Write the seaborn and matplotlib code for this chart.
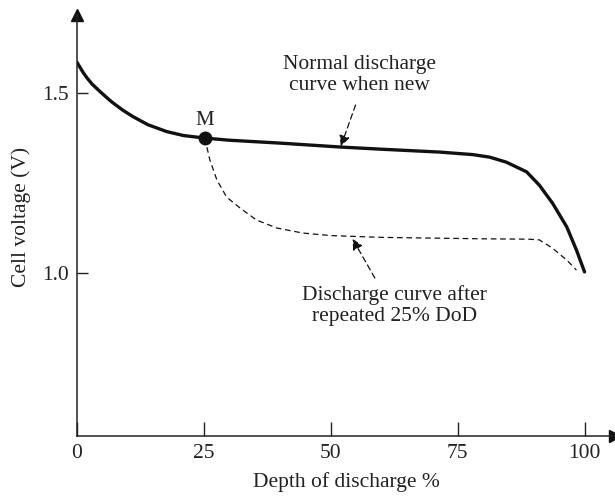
import matplotlib
matplotlib.use("Agg")
import matplotlib.pyplot as plt
import pandas as pd
import seaborn as sns

sns.set_style("white")
plt.rcParams["font.family"] = ["Liberation Serif", "DejaVu Serif"]

# normal discharge curve (new cell)
dod_new = [0, 1.2, 2, 3, 4.5, 6, 7, 9, 11, 14, 17.7, 21, 25.2, 30, 40, 52,
           60, 71.5, 78, 81.3, 84.6, 88.6, 91.1, 93.7, 96.5, 98.4, 100]
v_new = [1.586, 1.558, 1.542, 1.525, 1.505, 1.486, 1.474, 1.453, 1.435, 1.412,
         1.393, 1.382, 1.375, 1.369, 1.361, 1.35, 1.344, 1.336, 1.329, 1.322,
         1.308, 1.281, 1.244, 1.194, 1.128, 1.064, 1.003]

# curve after repeated 25% DoD
dod_rep = [25.2, 26.2, 27.6, 29.5, 32.1, 35.4, 39.4, 44.5, 50, 60, 70, 80,
           89, 91.1, 93.7, 96.5, 98.4]
v_rep = [1.375, 1.314, 1.258, 1.211, 1.181, 1.147, 1.125, 1.111, 1.104,
         1.099, 1.097, 1.095, 1.094, 1.092, 1.069, 1.036, 1.008]

x_ticks = [0, 25, 50, 75, 100]
y_ticks = [1.0, 1.5]

df_new = pd.DataFrame({"dod": dod_new, "v": v_new})
df_rep = pd.DataFrame({"dod": dod_rep, "v": v_rep})

fig = plt.figure(figsize=(6.15, 5), dpi=100)
ax = fig.add_axes([0.125, 0.128, 0.875, 0.842])

sns.lineplot(data=df_new, x="dod", y="v", ax=ax, color="#111111", lw=2.4,
             sort=False, solid_joinstyle="round")
sns.lineplot(data=df_rep, x="dod", y="v", ax=ax, color="#111111", lw=0.9,
             sort=False, linestyle=(0, (4.5, 3)))
ax.plot(dod_new[12], v_new[12], "o", color="#111111", ms=9)
ax.text(dod_new[12], 1.425, "M", ha="center", va="center", fontsize=15,
        color="#222222")

ax.set_xlim(0, 106)
ax.set_ylim(0.547, 1.717)
ax.set_xticks(x_ticks)
ax.set_yticks(y_ticks)
ax.set_xticklabels([str(t) for t in x_ticks])
ax.set_yticklabels(["1.0", "1.5"])
ax.tick_params(bottom=True, left=True, direction="in", length=8, width=1,
               colors="#222222", labelsize=15.5, pad=6)
ax.tick_params(axis="x", length=10)

for s in ["top", "right"]:
    ax.spines[s].set_visible(False)
for s in ["left", "bottom"]:
    ax.spines[s].set_linewidth(1.1)
    ax.spines[s].set_color("#222222")

# axis arrowheads
ax.plot(1, 0, ">", color="#111111", ms=8, transform=ax.transAxes,
        clip_on=False)
ax.plot(0, 1, "^", color="#111111", ms=8, transform=ax.transAxes,
        clip_on=False)

ax.set_xlabel("Depth of discharge %", fontsize=15.5, color="#222222")
ax.xaxis.set_label_coords(0.501, -0.086)
ax.set_ylabel("Cell voltage (V)", fontsize=15.5, color="#222222")
ax.yaxis.set_label_coords(-0.086, 0.52)

arrow = dict(arrowstyle="-|>", color="#111111", lw=0.9, ls=(0, (4.5, 3)),
             mutation_scale=16, shrinkA=0, shrinkB=0)
ax.annotate("", xy=(52, 1.352), xytext=(54.9, 1.467), arrowprops=arrow)
ax.text(55.7, 1.55, "Normal discharge\ncurve when new", ha="center",
        va="center", fontsize=15.5, color="#222222", linespacing=1.1)
ax.annotate("", xy=(54.3, 1.095), xytext=(58.7, 0.986), arrowprops=arrow)
ax.text(62.5, 0.91, "Discharge curve after\nrepeated 25% DoD", ha="center",
        va="center", fontsize=15.5, color="#222222", linespacing=1.1)

fig.savefig("out.png", dpi=100)
